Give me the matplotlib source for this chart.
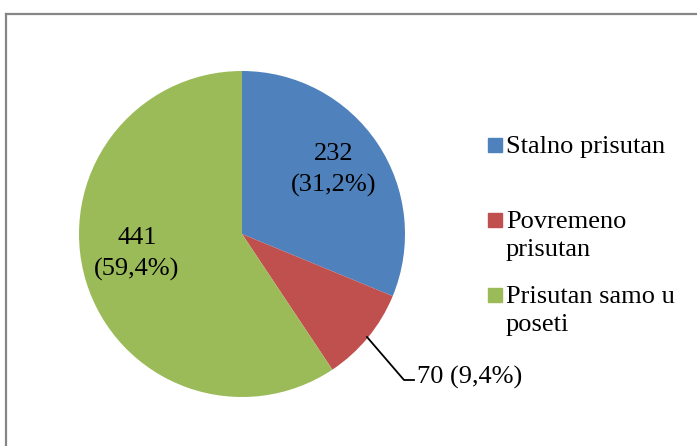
import matplotlib
matplotlib.use("Agg")
from matplotlib import pyplot as plt
from matplotlib.patches import Rectangle
from matplotlib.lines import Line2D

plt.rcParams['font.family'] = ['Liberation Serif', 'DejaVu Serif']

# data
categories = ["Stalno prisutan", "Povremeno\nprisutan", "Prisutan samo u\nposeti"]
counts = [232, 70, 441]
percents = ["31,2%", "9,4%", "59,4%"]
colors = ["#4F81BD", "#C0504D", "#9BBB59"]

W, H = 697, 446
fig = plt.figure(figsize=(W / 100, H / 100), dpi=100)

# outer chart frame (left and top edges visible)
fig.add_artist(Line2D([5.5 / W, 5.5 / W], [0, 1 - 13.5 / H], color="#868686", lw=1.6))
fig.add_artist(Line2D([5.5 / W, 1], [1 - 13.5 / H, 1 - 13.5 / H], color="#868686", lw=1.6))

# pie axes: centre (242, 234), radius 163 px
cx, cy, r = 242, 234, 163
ax = fig.add_axes([(cx - r) / W, 1 - (cy + r) / H, 2 * r / W, 2 * r / H])
wedges, _ = ax.pie(counts, colors=colors, startangle=90, counterclock=False,
                   radius=1.0, wedgeprops=dict(linewidth=0))
ax.set_xlim(-1, 1)
ax.set_ylim(-1, 1)
ax.set_aspect("equal")
ax.axis("off")

fs = 19


def px(x, y):
    return (x - cx) / r, (cy - y) / r


# data labels
ax.text(*px(334, 170), f"{counts[0]}\n({percents[0]})", ha="center", va="center",
        fontsize=fs, linespacing=1.5)
ax.text(*px(137, 254), f"{counts[2]}\n({percents[2]})", ha="center", va="center",
        fontsize=fs, linespacing=1.5)
# leader line for the small slice
p0, p1, p2 = px(367, 337), px(404, 380), px(414, 380)
ax.plot([p0[0], p1[0], p2[0]], [p0[1], p1[1], p2[1]], color="black", lw=1.3,
        clip_on=False)
ax.text(*px(417, 377), f"{counts[1]} ({percents[1]})",
        ha="left", va="center", fontsize=fs)

# legend
rows = [145, 220, 295]
for label, col, y in zip(categories, colors, rows):
    fig.add_artist(Rectangle((488 / W, 1 - (y + 7) / H), 14 / W, 14 / H,
                             transform=fig.transFigure, color=col))
    fig.text(506 / W, 1 - (y - 9) / H, label, ha="left", va="top",
             fontsize=fs, linespacing=1.35)

fig.savefig("out.png", dpi=100)
